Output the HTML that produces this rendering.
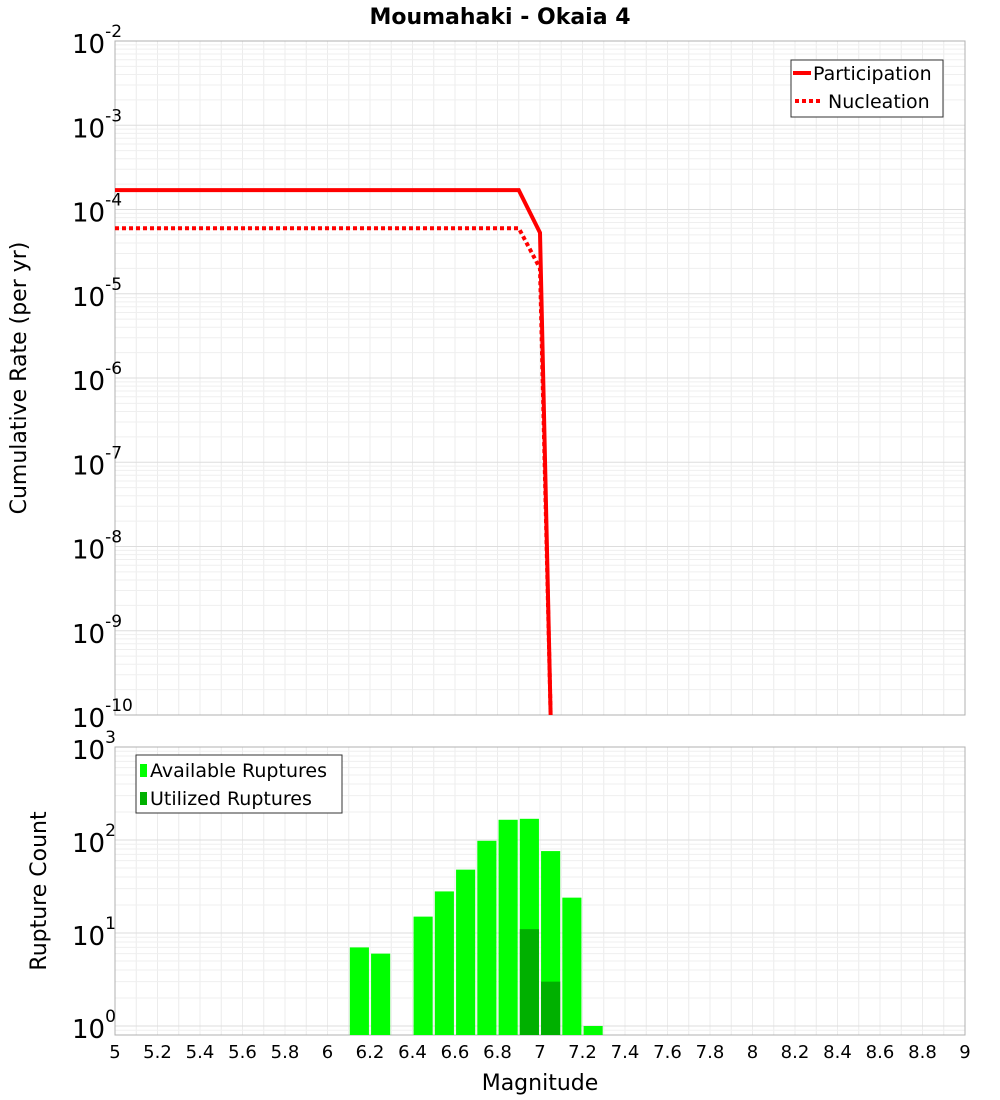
<!DOCTYPE html>
<html><head><meta charset="utf-8">
<style>
html,body{margin:0;padding:0;background:#fff;}
svg{display:block;font-family:"DejaVu Sans","Liberation Sans",sans-serif;}
</style></head>
<body>
<svg id="chart" width="1000" height="1100" viewBox="0 0 1000 1100" xmlns="http://www.w3.org/2000/svg">
<text x="500" y="24" text-anchor="middle" font-size="22" font-weight="bold">Moumahaki - Okaia 4</text>
<g id="top"></g>
<g id="bot"></g>
<text transform="translate(26,378) rotate(-90)" text-anchor="middle" font-size="22">Cumulative Rate (per yr)</text>
<text transform="translate(46,891) rotate(-90)" text-anchor="middle" font-size="22">Rupture Count</text>
<text x="540" y="1090" text-anchor="middle" font-size="22">Magnitude</text>
</svg>
<script>
const partMags = [5.0, 6.9, 7.0, 7.05];
const partRates = [1.7e-4, 1.7e-4, 5.3e-5, 1e-10];
const nuclMags = [5.0, 6.9, 7.0, 7.05];
const nuclRates = [6.0e-5, 6.0e-5, 2.0e-5, 1e-10];
const binCenters = [6.15, 6.25, 6.45, 6.55, 6.65, 6.75, 6.85, 6.95, 7.05, 7.15, 7.25];
const availCounts = [7, 6, 15, 28, 48, 98, 165, 169, 76, 24, 1];
const usedCounts = [0, 0, 0, 0, 0, 0, 0, 11, 3, 0, 0];
const xTicks = [5,5.2,5.4,5.6,5.8,6,6.2,6.4,6.6,6.8,7,7.2,7.4,7.6,7.8,8,8.2,8.4,8.6,8.8,9];
const topDecades = [-2,-3,-4,-5,-6,-7,-8,-9,-10];
const botDecades = [3,2,1,0];

const NS="http://www.w3.org/2000/svg";
const X0=115,X1=965;
const xs=m=>X0+(m-5)/4*(X1-X0);
const T0=41,T1=715;
const yTop=v=>T0+(-2-Math.log10(v))*(T1-T0)/8;
const B0=747,B1=1035,BD=93;
const yBot=v=>B0+(3-Math.log10(v))*BD;
function mk(tag,attrs,parent){const e=document.createElementNS(NS,tag);for(const k in attrs)e.setAttribute(k,attrs[k]);parent.appendChild(e);return e;}
const topG=document.getElementById('top'),botG=document.getElementById('bot');

function grid(g,y0,y1,yf,dmin,dmax){
  for(let i=0;i<=40;i++){const x=xs(5+i*0.1);const l=mk('line',{x1:x,x2:x,y1:y0,y2:y1,stroke:'#ececec','stroke-width':1},g);
  
  }
  for(let d=dmin;d<dmax;d++){for(let k=1;k<10;k++){const y=yf(k*Math.pow(10,d));if(y<y0||y>y1)continue;
    const l=mk('line',{x1:X0,x2:X1,y1:y,y2:y,stroke:k==1?'#dddddd':'#efefef','stroke-width':1},g);
    
    }}
  const f=mk('rect',{x:X0,y:y0,width:X1-X0,height:y1-y0,fill:'none',stroke:'#b0b0b0'},g);
  
  
}
function decLabel(g,y,d,name){
  const t=mk('text',{x:72,y:y+12,'font-size':26},g);
  
  
  t.textContent='10';
  const s=mk('tspan',{dy:-16,'font-size':17},t);s.textContent=String(d);
}
grid(topG,T0,T1,yTop,-10,-2);
topDecades.forEach(d=>decLabel(topG,yTop(Math.pow(10,d)),d,'rate-y-tick-label'));
grid(botG,B0,B1,yBot,-1,3);
botDecades.forEach(d=>decLabel(botG,yBot(Math.pow(10,d)),d,'count-y-tick-label'));

const clipDef=mk('clipPath',{id:'clipT'},document.getElementById('chart'));
mk('rect',{x:X0,y:T0,width:X1-X0,height:T1-T0},clipDef);
const pp=partMags.map((m,i)=>xs(m)+','+yTop(partRates[i])).join(' ');
const pl=mk('polyline',{points:pp,fill:'none',stroke:'#ff0000','stroke-width':4,'clip-path':'url(#clipT)'},topG);


const np=nuclMags.map((m,i)=>xs(m)+','+yTop(nuclRates[i])).join(' ');
const nl=mk('polyline',{points:np,fill:'none',stroke:'#ff0000','stroke-width':4,'stroke-dasharray':'4,3','clip-path':'url(#clipT)'},topG);



const lg=mk('g',{},topG);


mk('rect',{x:791,y:60,width:152,height:57,fill:'#fff',stroke:'#333'},lg);
mk('line',{x1:793,x2:811,y1:73,y2:73,stroke:'#f00','stroke-width':4},lg);
mk('line',{x1:795,x2:820,y1:101,y2:101,stroke:'#f00','stroke-width':4,'stroke-dasharray':'4,3'},lg);
let t=mk('text',{x:813,y:80,'font-size':19},lg);t.textContent='Participation';
t=mk('text',{x:828,y:108,'font-size':19},lg);t.textContent='Nucleation';

binCenters.forEach((c,i)=>{
  const x=xs(c-0.045),w=xs(c+0.045)-x;
  if(availCounts[i]>0){const y=yBot(availCounts[i]);
    const r=mk('rect',{x:x,y:y,width:w,height:B1-y,fill:'#00ff00'},botG);
    
    }
  if(usedCounts[i]>0){const y=yBot(usedCounts[i]);
    const r=mk('rect',{x:x,y:y,width:w,height:B1-y,fill:'#00b000'},botG);
    
    }
});
const lb=mk('g',{},botG);


mk('rect',{x:136,y:755,width:206,height:58,fill:'#fff',stroke:'#333'},lb);
mk('rect',{x:140,y:764,width:7,height:13,fill:'#00ff00'},lb);
mk('rect',{x:140,y:792,width:7,height:13,fill:'#00b000'},lb);
t=mk('text',{x:150,y:777,'font-size':19},lb);t.textContent='Available Ruptures';
t=mk('text',{x:150,y:805,'font-size':19},lb);t.textContent='Utilized Ruptures';

xTicks.forEach(m=>{const tt=mk('text',{x:xs(m),y:1058,'text-anchor':'middle','font-size':18},botG);
  
  
  tt.textContent=String(m);});
</script>
</body></html>
